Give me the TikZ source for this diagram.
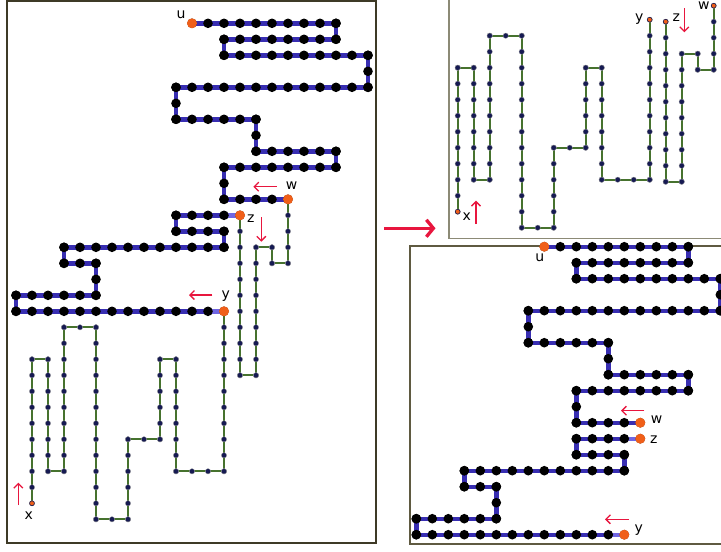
\documentclass[tikz,border=0pt]{standalone}
\usepackage{fontspec}
\setmainfont{DejaVu Sans}
\usetikzlibrary{arrows.meta}
\definecolor{pathblue}{RGB}{56,46,178}
\definecolor{lightblue}{RGB}{112,102,226}
\definecolor{pathgreen}{RGB}{70,114,46}
\definecolor{dotnavy}{RGB}{22,26,82}
\definecolor{endorange}{RGB}{240,95,25}
\definecolor{arrowred}{RGB}{232,22,62}
\definecolor{framedark}{RGB}{62,58,38}
\definecolor{framegray}{RGB}{140,138,118}
\definecolor{framemid}{RGB}{95,90,65}
\tikzset{
 blueline/.style={line width=4.4pt, draw=pathblue},
 greenline/.style={line width=1.8pt, draw=pathgreen},
 bigdot/.style={fill=black, radius=4.8pt},
 smalldot/.style={fill=dotnavy, draw=gray!70, line width=0.3pt, radius=2.7pt},
 bigend/.style={fill=endorange, radius=5pt},
 smallend/.style={fill=endorange, draw=dotnavy, line width=0.5pt, radius=2.4pt},
 lbl/.style={inner sep=0pt, font=\fontsize{14}{16}\selectfont},
 redarrow/.style={draw=arrowred, line width=1.3pt, -{Straight Barb[length=4.5pt,width=9pt]}},
 bigarrow/.style={draw=arrowred, line width=3.3pt, -{Straight Barb[length=7pt,width=17pt]}},
}
\newcommand\trailline[4]{%
 \draw[#1, line join=round] (#2*16,7.3+#3*16) \foreach \i/\j in {#4} { -- (\i*16,7.3+\j*16) };%
}
\newcommand\traildots[4]{%
 \foreach \i/\j [remember=\i as \li (initially #2), remember=\j as \lj (initially #3)] in {#4} {%
   \pgfmathtruncatemacro\nn{max(abs(\i-\li),abs(\j-\lj))}%
   \foreach \k in {0,...,\nn} {%
     \path[#1] ({(\li+(\i-\li)*\k/\nn)*16},{7.3+(\lj+(\j-\lj)*\k/\nn)*16}) circle[];%
   }%
 }%
}
\newcommand\BAlist{21/1,21/2,14/2,14/3,23/3,23/5,11/5,11/7,16/7,16/9,21/9,21/10,14/10,14/12,18/12}
\newcommand\BBlist{11/13,11/14,14/14,14/15,4/15,4/16,6/16,6/18,1/18,1/19,14/19}
\newcommand\GAlist{2/22,3/22,3/29,4/29,4/20,6/20,6/32,8/32,8/27,10/27,10/22,11/22,11/29,14/29,14/19}
\newcommand\GBlist{15/23,16/23,16/15,17/15,17/16,18/16,18/12}
\begin{document}
\begin{tikzpicture}[x=1pt,y=-1pt]
\useasboundingbox (0,0) rectangle (721,552);
\clip (0,0) rectangle (721,552);
\fill[white] (0,0) rectangle (721,552);
% frames
\draw[framedark, line width=1.8pt] (7,0.8) rectangle (376.3,542.8);
\draw[framegray, line width=1.5pt] (449,-5) rectangle (730,238.5);
\draw[framemid, line width=1.5pt] (410,246) rectangle (730,544);
% ---------- left panel ----------
\begin{scope}
 \edef\tmp{\noexpand\trailline{greenline}{2}{31}{\GAlist}}\tmp
 \edef\tmp{\noexpand\trailline{greenline}{15}{13}{\GBlist}}\tmp
 \edef\tmp{\noexpand\traildots{smalldot}{2}{31}{\GAlist}}\tmp
 \edef\tmp{\noexpand\traildots{smalldot}{15}{13}{\GBlist}}\tmp
 \edef\tmp{\noexpand\trailline{blueline}{12}{1}{\BAlist}}\tmp
 \edef\tmp{\noexpand\trailline{blueline}{15}{13}{\BBlist}}\tmp
 \draw[line width=4.4pt, lightblue] (15*16,7.3+13*16) -- (14*16,7.3+13*16);
 \draw[line width=4.4pt, lightblue] (13*16,7.3+19*16) -- (14*16,7.3+19*16);
 \edef\tmp{\noexpand\traildots{bigdot}{12}{1}{\BAlist}}\tmp
 \edef\tmp{\noexpand\traildots{bigdot}{15}{13}{\BBlist}}\tmp
 \path[bigend] (12*16,7.3+1*16) circle[];
 \path[bigend] (18*16,7.3+12*16) circle[];
 \path[bigend] (15*16,7.3+13*16) circle[];
 \path[bigend] (14*16,7.3+19*16) circle[];
 \path[smallend] (2*16,7.3+31*16) circle[];
\end{scope}
\node[lbl] (Lu) at (181,14.2) {u};
\node[lbl] (Lw) at (291.7,186) {w};
\node[lbl] (Lz) at (250.8,218.8) {z};
\node[lbl] (Ly) at (225.8,296.3) {y};
\node[lbl] (Lx) at (28.8,515.5) {x};
\coordinate (Lwa) at (276.7,186.7); \coordinate (Lwb) at (253.3,186.7);
\coordinate (Lza) at (261.3,217.3); \coordinate (Lzb) at (261.3,241.7);
\coordinate (Lya) at (212.3,295); \coordinate (Lyb) at (189,295);
\coordinate (Lxa) at (18.3,505); \coordinate (Lxb) at (18.3,482.7);
\draw[redarrow] (Lwa) -- (Lwb);
\draw[redarrow] (Lza) -- (Lzb);
\draw[redarrow] (Lya) -- (Lyb);
\draw[redarrow] (Lxa) -- (Lxb);
% middle arrow
\coordinate (Ma) at (384.3,228.3); \coordinate (Mb) at (435.5,228.3);
\draw[bigarrow] (Ma) -- (Mb);
% ---------- right top panel ----------
\begin{scope}[shift={(425.7,-291.6)}]
 \edef\tmp{\noexpand\trailline{greenline}{2}{31}{\GAlist}}\tmp
 \edef\tmp{\noexpand\traildots{smalldot}{2}{31}{\GAlist}}\tmp
 \path[smallend] (2*16,7.3+31*16) circle[];
 \path[smallend] (14*16,7.3+19*16) circle[];
\end{scope}
\begin{scope}[shift={(425.7,-193.6)}]
 \edef\tmp{\noexpand\trailline{greenline}{15}{13}{\GBlist}}\tmp
 \edef\tmp{\noexpand\traildots{smalldot}{15}{13}{\GBlist}}\tmp
 \path[smallend] (15*16,7.3+13*16) circle[];
 \path[smallend] (18*16,7.3+12*16) circle[];
\end{scope}
\node[lbl] (Ty) at (639.2,19.2) {y};
\node[lbl] (Tz) at (676.2,17.5) {z};
\node[lbl] (Tw) at (703.8,5.8) {w};
\node[lbl] (Tx) at (466.8,217) {x};
\coordinate (Tza) at (684.3,8.3); \coordinate (Tzb) at (684.3,32.3);
\coordinate (Txa) at (476,224); \coordinate (Txb) at (476,200.7);
\draw[redarrow] (Tza) -- (Tzb);
\draw[redarrow] (Txa) -- (Txb);
% ---------- right bottom panel ----------
\begin{scope}[shift={(352.3,223.4)}]
 \edef\tmp{\noexpand\trailline{blueline}{12}{1}{\BAlist}}\tmp
 \edef\tmp{\noexpand\traildots{bigdot}{12}{1}{\BAlist}}\tmp
 \path[bigend] (12*16,7.3+1*16) circle[];
 \path[bigend] (18*16,7.3+12*16) circle[];
\end{scope}
\begin{scope}[shift={(400.3,223.4)}]
 \edef\tmp{\noexpand\trailline{blueline}{15}{13}{\BBlist}}\tmp
 \draw[line width=4.4pt, lightblue] (15*16,7.3+13*16) -- (14*16,7.3+13*16);
 \draw[line width=4.4pt, lightblue] (13*16,7.3+19*16) -- (14*16,7.3+19*16);
 \edef\tmp{\noexpand\traildots{bigdot}{15}{13}{\BBlist}}\tmp
 \path[bigend] (15*16,7.3+13*16) circle[];
 \path[bigend] (14*16,7.3+19*16) circle[];
\end{scope}
\node[lbl] (Bu) at (539.7,258) {u};
\node[lbl] (Bw) at (656.7,420) {w};
\node[lbl] (Bz) at (653.8,439.5) {z};
\node[lbl] (By) at (638.8,530.3) {y};
\coordinate (Bwa) at (644.3,410.7); \coordinate (Bwb) at (621,410.7);
\coordinate (Bya) at (629,519.3); \coordinate (Byb) at (605,519.3);
\draw[redarrow] (Bwa) -- (Bwb);
\draw[redarrow] (Bya) -- (Byb);
\end{tikzpicture}
\end{document}
